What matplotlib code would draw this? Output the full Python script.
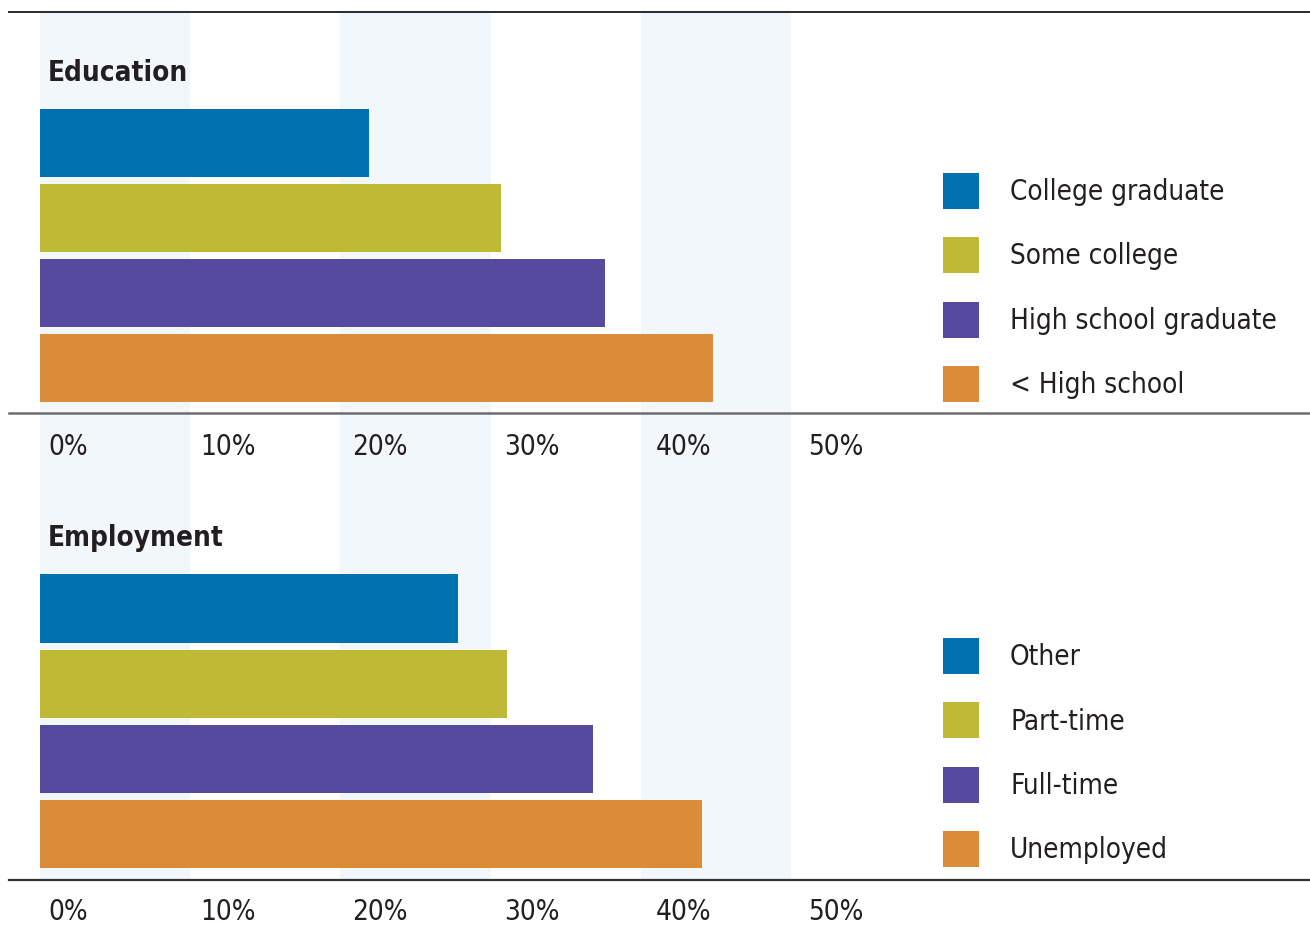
import matplotlib
matplotlib.use("Agg")
import matplotlib.pyplot as plt
from matplotlib.patches import Patch
from matplotlib.lines import Line2D
from matplotlib import transforms

# Données (en %)
edu_labels = ["College graduate", "Some college", "High school graduate", "< High school"]
edu_values = [21.9, 30.7, 37.6, 44.8]
emp_labels = ["Other", "Part-time", "Full-time", "Unemployed"]
emp_values = [27.8, 31.1, 36.8, 44.1]
ticks = [0, 10, 20, 30, 40, 50]
tick_labels = ["0%", "10%", "20%", "30%", "40%", "50%"]

colors = ["#0072B0", "#BEBA35", "#554A9E", "#DB8C38"]
stripe = "#F2F7FB"
txt = "#231F20"

plt.rcParams["font.family"] = ["DejaVu Sans"]
plt.rcParams["font.stretch"] = "condensed"

W, H = 1310, 926
fig = plt.figure(figsize=(W / 100, H / 100), dpi=100)


def box(x0, y0, x1, y1):
    return [x0 / W, 1 - y1 / H, (x1 - x0) / W, (y1 - y0) / H]


XMAX = (1310 - 40) / 15.02

# Bandes de fond
ax_bg = fig.add_axes(box(40, 12, 1310, 880), zorder=0)
for s in ticks[::2]:
    ax_bg.axvspan(s, s + 10, color=stripe, lw=0)
ax_bg.set_xlim(0, XMAX)
ax_bg.axis("off")


def panel(ax, values, labels, title, ylim, title_y, tick_y, leg_top):
    ax.barh(range(len(values)), values, height=0.907, color=colors)
    ax.set_xlim(0, XMAX)
    ax.set_ylim(*ylim)
    ax.set_facecolor("none")
    ax.axis("off")
    fig.text(48 / W, 1 - title_y / H, title, fontsize=20, fontweight="bold",
             color=txt, va="center", ha="left")
    base = transforms.blended_transform_factory(ax.transData, fig.transFigure)
    for t, lab in zip(ticks, tick_labels):
        tr = transforms.offset_copy(base, fig=fig, x=8 + 0.18 * t, units="dots")
        ax.text(t, 1 - tick_y / H, lab, transform=tr, fontsize=20, color=txt,
                va="center", ha="left")
    handles = [Patch(facecolor=c, edgecolor="none") for c in colors]
    fig.legend(handles, labels, loc="upper left",
               bbox_to_anchor=(943 / W, 1 - leg_top / H), bbox_transform=fig.transFigure,
               frameon=False, borderpad=0, borderaxespad=0, fontsize=20,
               handlelength=1.296, handleheight=1.62, handletextpad=1.12,
               labelspacing=1.02, labelcolor=txt)


ax1 = fig.add_axes(box(40, 12, 1310, 413), zorder=1)
panel(ax1, edu_values, edu_labels, "Education", (3.6, -1.747), 73, 447, 173)
ax2 = fig.add_axes(box(40, 413, 1310, 880), zorder=1)
panel(ax2, emp_values, emp_labels, "Employment", (3.613, -2.6), 538, 912, 638)

# Lignes horizontales
for y, c, lw in [(12, "#2A2A2A", 1.4), (413, "#6D6D6D", 1.8), (880, "#333333", 1.6)]:
    fig.add_artist(Line2D([9 / W, 1], [1 - y / H] * 2, transform=fig.transFigure,
                          color=c, lw=lw))

plt.savefig("out.png", dpi=100)
plt.close()
